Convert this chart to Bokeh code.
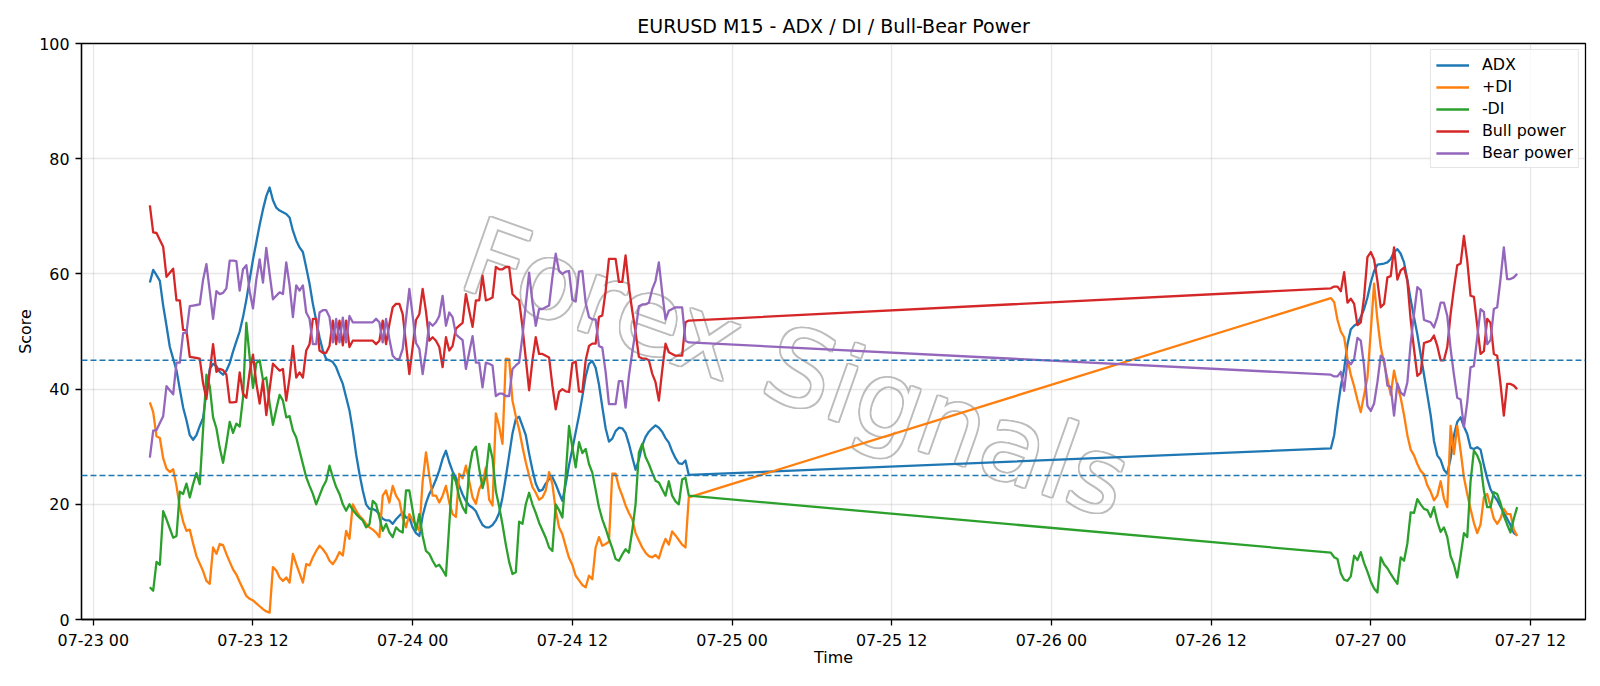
import pandas as pd
from bokeh.plotting import figure
from bokeh.models import (ColumnDataSource, Range1d, FixedTicker, DatetimeTickFormatter,
                          Span, Legend, LegendItem)
from bokeh.core.properties import value
from bokeh.embed import file_html
from bokeh.resources import INLINE

# 15-minute bars: Thursday/Friday session, then the Sunday-evening open
session_1 = pd.date_range("2020-07-23 04:15", "2020-07-24 20:45", freq="15min")
session_2 = pd.date_range("2020-07-26 21:00", "2020-07-27 11:00", freq="15min")
times = session_1.append(session_2)

adx = [
    58.5, 60.7, 59.8, 58.8, 54.5, 51.0, 47.3, 45.3, 43.3, 40.0,
    36.8, 34.6, 32.0, 31.2, 32.0, 33.6, 35.0, 39.5, 43.5, 44.4,
    44.0, 43.0, 42.5, 43.2, 44.5, 46.5, 48.3, 50.0, 52.5, 55.5,
    59.0, 62.5, 65.5, 68.5, 71.2, 73.5, 75.0, 72.8, 71.5, 71.0,
    70.7, 70.4, 69.8, 67.5, 65.8, 64.6, 63.8, 61.1, 58.3, 54.8,
    51.9, 49.0, 46.7, 45.2, 45.0, 44.7, 43.8, 42.3, 40.9, 38.6,
    36.3, 32.8, 28.7, 25.3, 22.4, 20.0, 19.2, 19.2, 18.9, 18.3,
    17.5, 17.2, 17.2, 16.6, 17.4, 18.0, 18.6, 17.7, 17.7, 16.0,
    15.0, 14.5, 18.0, 20.2, 21.8, 22.9, 24.3, 25.9, 27.9, 29.3,
    27.3, 25.7, 24.6, 23.2, 21.7, 20.6, 19.8, 19.4, 18.8, 17.5,
    16.4, 16.0, 16.0, 16.4, 17.2, 18.5, 21.2, 24.7, 28.5, 32.3,
    34.8, 35.2, 33.6, 32.0, 28.8, 26.0, 23.6, 22.3, 22.5, 23.6,
    24.4, 24.7, 23.5, 22.0, 20.6, 23.5, 26.8, 29.6, 32.5, 35.4,
    38.7, 42.2, 44.4, 44.9, 43.7, 40.8, 36.9, 33.2, 30.9, 31.4,
    32.7, 33.3, 33.2, 32.4, 30.5, 28.2, 26.0, 27.8, 30.2, 31.7,
    32.6, 33.2, 33.7, 33.3, 32.6, 31.5, 30.7, 29.2, 28.0, 27.1,
    27.0, 27.6, 25.1,
    29.7, 32.0, 36.5, 40.5, 43.5, 47.8, 50.4, 51.0, 51.4, 52.5,
    53.9, 55.9, 58.5, 60.5, 61.6, 61.7, 61.8, 62.0, 62.6, 63.8,
    64.3, 63.5, 62.0, 59.0, 55.5, 52.5, 49.5, 46.0, 42.5, 39.0,
    35.5, 31.0, 28.5, 27.7, 26.0, 25.3, 28.0, 32.0, 34.3, 35.1,
    33.5, 32.2, 29.8, 29.6, 29.9, 29.5, 26.8, 24.5, 22.6, 21.5,
    20.7, 19.6, 18.5, 17.5, 16.4, 15.0, 14.6,
]

plus_di = [
    37.7, 36.0, 31.8, 31.5, 28.0, 26.2, 25.6, 26.1, 23.2, 19.5,
    17.0, 15.4, 15.6, 13.2, 11.0, 9.7, 8.4, 6.7, 6.2, 12.5,
    11.4, 13.1, 12.9, 11.4, 10.0, 8.7, 7.8, 6.5, 5.3, 4.1,
    3.6, 3.3, 2.8, 2.3, 1.8, 1.4, 1.2, 9.1, 8.5, 7.3,
    6.7, 7.3, 6.4, 11.4, 9.6, 8.0, 6.4, 9.6, 9.4, 10.8,
    11.9, 12.8, 12.2, 11.4, 10.2, 9.6, 10.5, 11.7, 11.1, 15.4,
    14.0, 20.0, 18.9, 18.0, 17.4, 16.6, 16.0, 15.6, 15.1, 14.3,
    21.5, 22.4, 20.3, 23.2, 21.5, 20.6, 17.7, 16.0, 18.3, 17.2,
    16.5, 15.4, 24.0, 29.0, 25.0, 21.5, 21.5, 20.3, 21.5, 23.2,
    20.3, 18.3, 17.8, 25.3, 24.5, 26.7, 24.0, 21.2, 20.1, 22.6,
    23.8, 26.4, 20.8, 19.8, 35.8, 33.5, 30.5, 45.3, 45.2, 38.0,
    35.3, 33.0, 30.0, 27.3, 25.0, 23.0, 22.0, 20.8, 21.2, 22.4,
    25.6, 23.5, 19.0, 16.0, 14.8, 12.7, 10.7, 9.5, 7.6, 6.8,
    6.0, 5.6, 7.6, 7.0, 12.5, 14.3, 12.8, 13.1, 13.5, 25.3,
    25.3, 23.0, 21.5, 19.8, 18.5, 17.4, 15.0, 13.7, 12.5, 11.6,
    11.0, 10.8, 11.2, 10.6, 12.5, 14.0, 13.0, 15.3, 14.6, 13.8,
    13.0, 12.5, 21.2,
    55.8, 55.1, 52.0, 50.0, 49.0, 45.2, 42.5, 40.5, 38.1, 36.0,
    39.0, 42.0, 50.0, 58.3, 52.0, 47.3, 44.5, 41.8, 39.0, 43.2,
    40.5, 38.5, 35.5, 32.0, 29.5, 28.5, 27.0, 25.8, 25.2, 23.3,
    22.2, 20.7, 21.5, 24.0, 21.0, 19.5, 33.6, 28.7, 33.6, 29.3,
    24.7, 21.8, 19.2, 16.8, 15.0, 16.5, 21.2, 21.8, 19.7, 17.5,
    16.6, 17.5, 19.2, 18.3, 18.3, 15.6, 14.5,
]

minus_di = [
    5.6, 5.0, 10.0, 9.5, 18.8, 17.4, 15.8, 14.2, 14.5, 22.2,
    21.8, 23.6, 21.2, 23.5, 25.4, 23.5, 33.0, 42.5, 40.5, 35.1,
    33.2, 29.8, 27.2, 30.5, 34.3, 32.4, 34.0, 33.5, 38.5, 51.5,
    45.5, 40.2, 44.5, 45.0, 41.6, 42.0, 37.5, 33.8, 36.5, 39.0,
    38.0, 35.1, 35.3, 32.8, 31.6, 29.3, 27.0, 24.7, 23.2, 21.8,
    20.0, 21.5, 23.0, 24.1, 26.7, 24.7, 23.0, 21.8, 20.0, 18.9,
    20.0, 19.0, 18.3, 17.7, 17.2, 16.0, 16.5, 20.6, 20.0, 17.7,
    15.4, 16.6, 15.1, 14.3, 16.0, 15.4, 15.1, 22.4, 22.4, 18.9,
    15.5, 18.3, 14.5, 11.9, 11.4, 10.2, 9.2, 9.5, 8.6, 7.6,
    16.5, 25.3, 23.9, 21.2, 19.5, 18.5, 26.0, 29.2, 30.0, 26.2,
    22.8, 25.0, 30.5, 28.0, 22.3, 19.6, 16.5, 13.0, 10.0, 7.9,
    8.2, 17.0, 16.6, 20.0, 22.0, 20.0, 18.5, 16.8, 15.5, 14.2,
    12.5, 11.9, 20.0, 19.0, 17.7, 25.0, 33.6, 29.9, 26.4, 30.8,
    28.9, 29.6, 27.0, 25.5, 22.5, 19.5, 17.4, 15.8, 14.0, 12.4,
    10.5, 10.2, 11.3, 12.2, 11.6, 15.4, 20.0, 29.0, 30.5, 28.2,
    27.0, 25.5, 24.1, 23.8, 22.6, 21.5, 24.0, 21.5, 20.5, 20.0,
    24.3, 24.6, 21.5,
    11.6, 10.8, 10.5, 8.0, 6.9, 6.7, 7.5, 11.1, 10.3, 11.7,
    9.8, 8.3, 6.6, 5.4, 4.7, 10.8, 9.6, 8.9, 7.9, 7.0,
    6.2, 10.8, 10.2, 13.2, 18.6, 18.5, 20.9, 20.0, 19.2, 19.0,
    17.8, 19.5, 17.0, 15.2, 16.0, 14.3, 11.0, 9.5, 7.3, 11.0,
    15.0, 14.3, 24.0, 29.3, 28.5, 27.0, 22.4, 19.5, 19.5, 22.1,
    21.8, 20.2, 18.0, 16.5, 15.1, 17.5, 19.5,
]

bull_power = [
    71.9, 67.2, 67.1, 65.9, 64.7, 59.5, 60.2, 60.9, 55.4, 55.4,
    50.3, 50.2, 45.6, 45.5, 45.4, 45.3, 41.0, 38.3, 43.0, 47.8,
    43.0, 43.5, 43.3, 42.5, 37.7, 37.7, 37.8, 42.9, 39.2, 38.5,
    43.0, 46.0, 41.0, 37.5, 41.5, 35.5, 40.0, 44.4, 43.8, 43.2,
    43.5, 38.0, 42.0, 47.5, 42.0, 42.9, 42.0, 46.7, 47.8, 52.2,
    52.2, 46.7, 46.3, 46.3, 47.5, 51.9, 47.8, 51.9, 47.6, 51.9,
    47.3, 48.4, 48.4, 48.4, 48.4, 48.4, 48.4, 48.4, 47.8, 48.4,
    51.9, 47.8, 51.3, 54.2, 54.8, 54.8, 53.0, 47.8, 42.6, 47.3,
    52.0, 53.0, 57.4, 53.5, 48.4, 49.0, 48.4, 47.3, 43.8, 49.0,
    46.7, 47.5, 50.5, 51.0, 51.5, 56.5, 53.6, 50.8, 55.4, 55.4,
    59.7, 55.4, 55.6, 55.9, 61.2, 60.8, 60.8, 61.2, 61.2, 56.5,
    55.9, 55.4, 50.8, 45.3, 39.8, 45.0, 49.0, 46.1, 46.1, 45.8,
    45.5, 40.6, 36.5, 39.5, 40.0, 39.6, 39.5, 44.5, 44.8, 39.6,
    39.5, 45.0, 47.5, 47.9, 47.9, 52.5, 52.8, 57.0, 62.6, 62.6,
    62.6, 58.6, 58.6, 63.2, 57.7, 53.6, 49.9, 45.6, 45.3, 45.3,
    45.0, 42.7, 41.2, 38.0, 43.2, 47.9, 46.4, 46.1, 45.8, 45.8,
    45.8, 51.6, 51.9,
    57.5, 57.8, 57.8, 57.0, 60.3, 55.0, 55.7, 54.8, 51.1, 51.6,
    56.0, 62.9, 63.8, 62.5, 58.8, 54.2, 54.8, 59.4, 59.6, 64.6,
    59.0, 60.6, 61.1, 58.8, 52.0, 47.0, 42.3, 42.8, 48.0, 48.2,
    48.4, 49.3, 47.5, 45.0, 45.0, 47.3, 53.0, 57.5, 61.5, 61.8,
    66.6, 62.3, 56.2, 56.0, 51.0, 46.1, 46.6, 52.2, 51.5, 46.1,
    45.8, 40.9, 35.4, 40.9, 40.9, 40.6, 40.0,
]

bear_power = [
    28.1, 32.8, 32.9, 34.1, 35.3, 40.5, 39.8, 39.1, 44.6, 44.6,
    49.7, 49.8, 54.4, 54.5, 54.6, 54.7, 59.0, 61.7, 57.0, 52.2,
    57.0, 56.5, 56.7, 57.5, 62.3, 62.3, 62.2, 57.1, 60.8, 61.5,
    57.0, 54.0, 59.0, 62.5, 58.5, 64.5, 60.0, 55.6, 56.2, 56.8,
    56.5, 62.0, 58.0, 52.5, 58.0, 57.1, 58.0, 53.3, 52.2, 47.8,
    47.8, 53.3, 53.7, 53.7, 52.5, 48.1, 52.2, 48.1, 52.4, 48.1,
    52.7, 51.6, 51.6, 51.6, 51.6, 51.6, 51.6, 51.6, 52.2, 51.6,
    48.1, 52.2, 48.7, 45.8, 45.2, 45.2, 47.0, 52.2, 57.4, 52.7,
    48.0, 47.0, 42.6, 46.5, 51.6, 51.0, 51.6, 52.7, 56.2, 51.0,
    53.3, 52.5, 49.5, 49.0, 48.5, 43.5, 46.4, 49.2, 44.6, 44.6,
    40.3, 44.6, 44.4, 44.1, 38.8, 39.2, 39.2, 38.8, 38.8, 43.5,
    44.1, 44.6, 49.2, 54.7, 60.2, 55.0, 51.0, 53.9, 53.9, 54.2,
    54.5, 59.4, 63.5, 60.5, 60.0, 60.4, 60.5, 55.5, 55.2, 60.4,
    60.5, 55.0, 52.5, 52.1, 52.1, 47.5, 47.2, 43.0, 37.4, 37.4,
    37.4, 41.4, 41.4, 36.8, 42.3, 46.4, 50.1, 54.4, 54.7, 54.7,
    55.0, 57.3, 58.8, 62.0, 56.8, 52.1, 53.6, 53.9, 54.2, 54.2,
    54.2, 48.4, 48.1,
    42.5, 42.2, 42.2, 43.0, 39.7, 45.0, 44.3, 45.2, 48.9, 48.4,
    44.0, 37.1, 36.2, 37.5, 41.2, 45.8, 45.2, 40.6, 40.4, 35.4,
    41.0, 39.4, 38.9, 41.2, 48.0, 53.0, 57.7, 57.2, 52.0, 51.8,
    51.6, 50.7, 52.5, 55.0, 55.0, 52.7, 47.0, 42.5, 38.5, 38.2,
    33.4, 37.7, 43.8, 44.0, 49.0, 53.9, 53.4, 47.8, 48.5, 53.9,
    54.2, 59.1, 64.6, 59.1, 59.1, 59.4, 60.0,
]

adx_levels = [25, 45]
y_ticks = [0, 20, 40, 60, 80, 100]
x_ticks = pd.date_range("2020-07-23 00:00", "2020-07-27 12:00", freq="12h")

series = [
    ("ADX", "adx", "#1f77b4"),
    ("+DI", "plus_di", "#ff7f0e"),
    ("-DI", "minus_di", "#2ca02c"),
    ("Bull power", "bull", "#d62728"),
    ("Bear power", "bear", "#9467bd"),
]

src = ColumnDataSource(dict(t=times, adx=adx, plus_di=plus_di, minus_di=minus_di,
                            bull=bull_power, bear=bear_power))

# x extent with a 5% margin on both sides of the data
t0 = times[0].value / 1e6
t1 = times[-1].value / 1e6
pad = 0.05 * (t1 - t0)
x_start, x_end = t0 - pad, t1 + pad

FONT = "DejaVu Sans"

p = figure(width=1600, height=686, x_axis_type="datetime",
           x_range=Range1d(x_start, x_end), y_range=Range1d(0, 100),
           output_backend="svg", toolbar_location=None,
           min_border_left=81, min_border_right=15,
           min_border_top=43, min_border_bottom=67)
p.background_fill_color = "white"
p.border_fill_color = "white"
p.outline_line_color = "black"
p.outline_line_width = 1.3
p.outline_line_alpha = 1.0

p.title.text = "EURUSD M15 - ADX / DI / Bull-Bear Power"
p.title.align = "center"
p.title.text_font = FONT
p.title.text_font_size = "19px"
p.title.text_font_style = "normal"
p.title.text_color = "black"
p.title.standoff = 13

# grid
xticker = FixedTicker(ticks=[t.value / 1e6 for t in x_ticks])
yticker = FixedTicker(ticks=y_ticks)
p.xaxis.ticker = xticker
p.yaxis.ticker = yticker
p.xgrid.ticker = xticker
p.ygrid.ticker = yticker
for g in (p.xgrid[0], p.ygrid[0]):
    g.grid_line_color = "#b0b0b0"
    g.grid_line_alpha = 0.3
    g.grid_line_width = 1.3

fmt = "%m-%d %H"
p.xaxis.formatter = DatetimeTickFormatter(hours=fmt, hourmin=fmt, days=fmt,
                                          months=fmt, minutes=fmt, minsec=fmt)

for ax in (p.xaxis[0], p.yaxis[0]):
    ax.axis_line_color = "black"
    ax.axis_line_width = 1.3
    ax.major_tick_line_color = "black"
    ax.major_tick_line_width = 1.3
    ax.major_tick_out = 6
    ax.major_tick_in = 0
    ax.minor_tick_line_color = None
    ax.major_label_text_font = FONT
    ax.major_label_text_font_size = "15.9px"
    ax.major_label_text_color = "black"
    ax.axis_label_text_font = FONT
    ax.axis_label_text_font_size = "15.9px"
    ax.axis_label_text_font_style = "normal"
    ax.axis_label_text_color = "black"

p.xaxis.axis_label = "Time"
p.yaxis.axis_label = "Score"
p.xaxis.major_label_standoff = 5
p.xaxis.axis_label_standoff = -5
p.yaxis.major_label_standoff = 6
p.yaxis.axis_label_standoff = 1

# outlined watermark behind the grid
wm_x = x_start + 0.475 * (x_end - x_start)
wm_src = ColumnDataSource(dict(x=[wm_x], y=[43.6], text=["Forex Signals"]))
wm_style = dict(x="x", y="y", text="text", source=wm_src, angle=-0.34,
                text_align="center", text_baseline="middle",
                text_font=value(FONT), text_font_size="105px", level="image")
d = 1.5
for dx, dy in [(-d, 0), (d, 0), (0, -d), (0, d), (-d, -d), (d, d), (-d, d), (d, -d)]:
    p.text(x_offset=dx, y_offset=dy, text_color="#bcbcbc", **wm_style)
p.text(text_color="white", **wm_style)

# ADX reference levels
for lvl in adx_levels:
    p.add_layout(Span(location=lvl, dimension="width", line_color="#1f77b4",
                      line_dash="6 3", line_width=1.5))

items = []
for label, col, color in series:
    r = p.line(x="t", y=col, source=src, line_color=color, line_width=2.3,
               line_join="round")
    items.append(LegendItem(label=label, renderers=[r]))

legend = Legend(items=items, location="top_right")
legend.margin = 6
legend.padding = 5
legend.spacing = 3
legend.label_height = 18
legend.glyph_height = 18
legend.glyph_width = 33
legend.label_standoff = 13
legend.label_text_font = FONT
legend.label_text_font_size = "15.9px"
legend.label_text_color = "black"
legend.border_line_color = "#cccccc"
legend.border_line_width = 1
legend.background_fill_alpha = 0.8
p.add_layout(legend)

open("out.html", "w").write(file_html(p, INLINE))
